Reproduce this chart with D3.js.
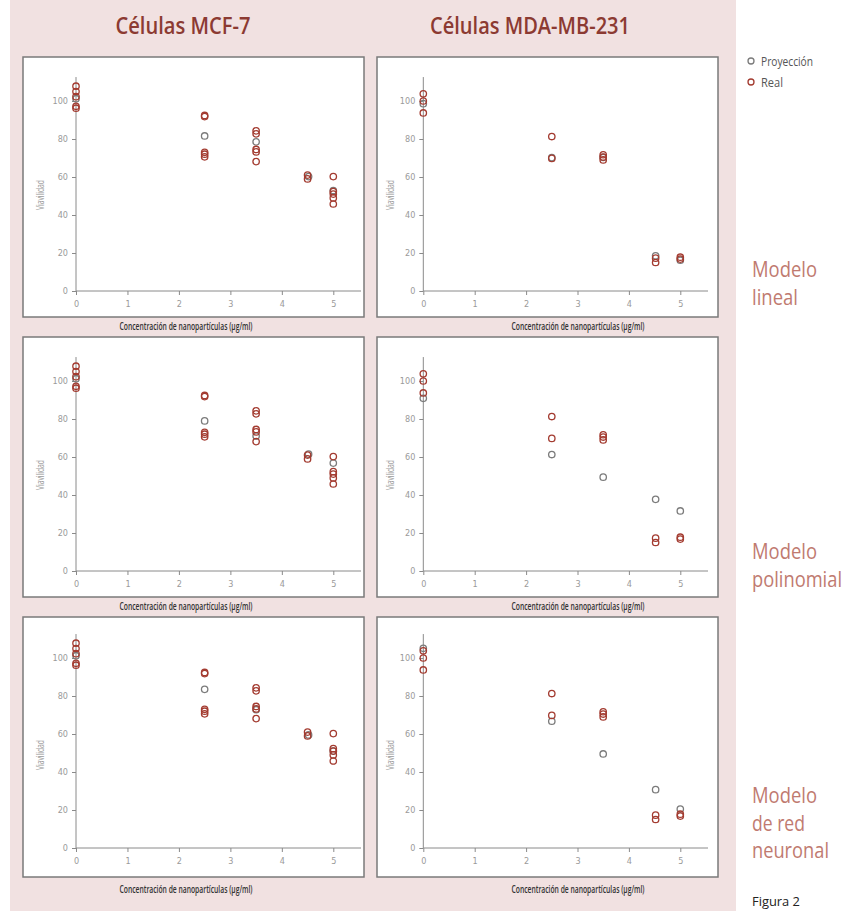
<!DOCTYPE html>
<html><head><meta charset="utf-8">
<script src="https://cdn.jsdelivr.net/npm/d3@7"></script>
<style>
html,body{margin:0;padding:0;background:#fff;}
svg{display:block;font-family:"DejaVu Sans Condensed","Liberation Sans Narrow",sans-serif;}
</style></head>
<body>
<svg id="c" width="858" height="911"></svg>
<script>
// ---------- data ----------
const cellLines = ["Células MCF-7", "Células MDA-MB-231"];
const models = [["Modelo", "lineal"], ["Modelo", "polinomial"], ["Modelo", "de red", "neuronal"]];
const xTicks = [0, 1, 2, 3, 4, 5];
const yTicks = [0, 20, 40, 60, 80, 100];
const legendLabels = ["Proyección", "Real"];

// concentration (µg/ml) of each observation
const mcfRealX = [0, 0, 0, 0, 0, 2.5, 2.5, 2.5, 2.5, 2.5, 3.5, 3.5, 3.5, 3.5, 3.5, 4.5, 4.5, 5, 5, 5, 5, 5];
const mcfRealY = [107.8, 105, 102.3, 97.2, 96.2, 92.4, 91.8, 73, 72, 70.6, 84.3, 82.7, 74.5, 73.2, 68.1, 61, 59, 60.2, 52.3, 51, 49, 45.8];
const mdaRealX = [0, 0, 0, 2.5, 2.5, 3.5, 3.5, 3.5, 4.52, 4.52, 5, 5];
const mdaRealY = [103.8, 100, 93.7, 81.3, 69.8, 71.7, 70.5, 69, 17.3, 15, 17.8, 16.8];

const projX = [0, 2.5, 3.5, 4.52, 5];
const mcfLineal = [101.2, 81.6, 78.5, 60.2, 52.9];
const mcfPolinomial = [101.2, 79, 71, 61.5, 56.8];
const mcfNeuronal = [101.2, 83.5, 72.8, 59.5, 51];
const mdaLineal = [98.6, 70.2, 70.3, 18.5, 16.2];
const mdaPolinomial = [90.9, 61.3, 49.4, 37.7, 31.6];
const mdaNeuronal = [105.1, 66.7, 49.5, 30.7, 20.5];

const realX = [mcfRealX, mdaRealX];
const realY = [mcfRealY, mdaRealY];
const projY = [[mcfLineal, mcfPolinomial, mcfNeuronal], [mdaLineal, mdaPolinomial, mdaNeuronal]];

// ---------- layout ----------
const RED = "#a33b30", GRAY = "#7b7b7b";
const SANS = '"Open Sans","Noto Sans",sans-serif';
const cols = [
  {px: 23, ax: 76, x5: 333.3, axEnd: 361, ylab: 41, xlabC: 186, titleC: 183, titleW: 135},
  {px: 377, ax: 423.3, x5: 680.3, axEnd: 708, ylab: 391, xlabC: 578, titleC: 530, titleW: 200}
];
const rows = [
  {py: 57, z: 234, xl: 270},
  {py: 337, z: 234, xl: 270},
  {py: 617, z: 231, xl: 273}
];
const PW = 341, PH = 260;

const svg = d3.select("#c");
svg.append("rect").attr("x", 10).attr("y", 0).attr("width", 726).attr("height", 911).attr("fill", "#f1e1e1");

function fitText(sel, w) {
  return sel.attr("textLength", w).attr("lengthAdjust", "spacingAndGlyphs");
}

// titles
cellLines.forEach((t, i) => {
  fitText(svg.append("text").attr("x", cols[i].titleC).attr("y", 34).attr("text-anchor", "middle")
    .attr("font-family", SANS).attr("font-size", 24).attr("font-weight", 600)
    .attr("fill", "#8c3a32").text(t), cols[i].titleW);
});

// panels
rows.forEach((r, ri) => {
  cols.forEach((c, ci) => {
    const g = svg.append("g");
    g.append("rect").attr("x", c.px).attr("y", r.py).attr("width", PW).attr("height", PH)
      .attr("fill", "#fff").attr("stroke", "#7a7a7a").attr("stroke-width", 1.5);
    const x = d3.scaleLinear().domain([0, 5]).range([c.ax, c.x5]);
    const y0 = r.py + r.z;
    const y = d3.scaleLinear().domain([0, 100]).range([y0, y0 - 190]);
    const yTop = y(112.6);

    const xa = g.append("g").attr("transform", `translate(0,${y0})`)
      .call(d3.axisBottom(x).tickValues(xTicks).tickSize(4).tickPadding(6).tickFormat(d3.format("d")));
    xa.select(".domain").remove();
    xa.append("line").attr("x1", c.ax).attr("x2", c.axEnd).attr("y1", 0).attr("y2", 0).attr("stroke", "#8a8a8a");
    const ya = g.append("g").attr("transform", `translate(${c.ax},0)`)
      .call(d3.axisLeft(y).tickValues(yTicks).tickSize(4).tickPadding(4));
    ya.select(".domain").remove();
    ya.append("line").attr("x1", 0).attr("x2", 0).attr("y1", yTop).attr("y2", y0).attr("stroke", "#8a8a8a");
    g.selectAll(".tick line").attr("stroke", "#8a8a8a");
    g.selectAll(".tick text").attr("fill", "#9a9a9a").attr("font-size", 9)
      .attr("font-family", '"DejaVu Sans Condensed",sans-serif');

    fitText(g.append("text").attr("transform", `translate(${c.ylab},${r.py + 138}) rotate(-90)`)
      .attr("text-anchor", "middle").attr("dominant-baseline", "middle")
      .attr("font-family", SANS).attr("font-size", 10.5).attr("fill", "#9a9a9a").text("Viavilidad"), 30);

    fitText(g.append("text").attr("x", c.xlabC).attr("y", r.py + r.xl).attr("text-anchor", "middle")
      .attr("dominant-baseline", "middle").attr("font-family", SANS).attr("font-size", 10).attr("font-weight", 600)
      .attr("fill", "#333").text("Concentración de nanopartículas (µg/ml)"), 133);

    const py = projY[ci][ri];
    g.selectAll(".p").data(projX.map((d, i) => [d, py[i]])).join("circle")
      .attr("cx", d => x(d[0])).attr("cy", d => y(d[1])).attr("r", 3.2)
      .attr("fill", "none").attr("stroke", GRAY).attr("stroke-width", 1.3);
    g.selectAll(".r").data(realX[ci].map((d, i) => [d, realY[ci][i]])).join("circle")
      .attr("cx", d => x(d[0])).attr("cy", d => y(d[1])).attr("r", 3.2)
      .attr("fill", "none").attr("stroke", RED).attr("stroke-width", 1.3);
  });
});

// legend
const legendW = [52, 22];
legendLabels.forEach((l, i) => {
  svg.append("circle").attr("cx", 751).attr("cy", 61 + i * 21).attr("r", 3)
    .attr("fill", "none").attr("stroke", i === 0 ? GRAY : RED).attr("stroke-width", 1.3);
  fitText(svg.append("text").attr("x", 761).attr("y", 65.5 + i * 21).attr("font-family", SANS)
    .attr("font-size", 13).attr("fill", "#555").text(l), legendW[i]);
});

// model labels
const modelBase = [277, 559, 803];
const modelW = [[65, 46], [65, 90], [65, 53, 77]];
models.forEach((lines, i) => {
  lines.forEach((t, j) => {
    fitText(svg.append("text").attr("x", 752).attr("y", modelBase[i] + j * 27.5).attr("font-family", SANS)
      .attr("font-size", 21).attr("fill", "#c07a70").text(t), modelW[i][j]);
  });
});

fitText(svg.append("text").attr("x", 752).attr("y", 906).attr("font-family", SANS)
  .attr("font-size", 13).attr("fill", "#222").text("Figura 2"), 48);
</script>
</body></html>
